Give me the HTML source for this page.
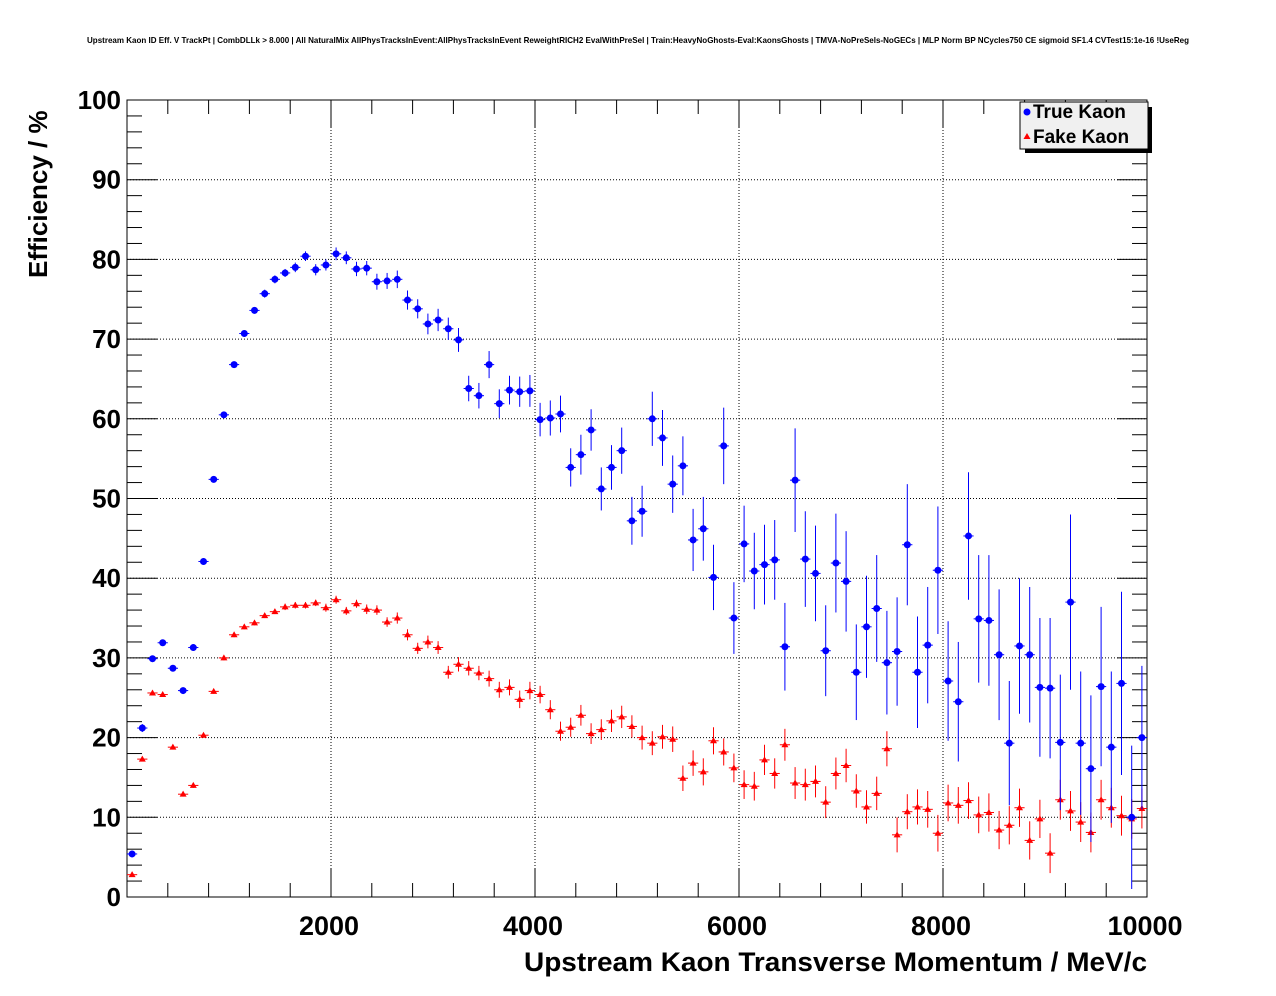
<!DOCTYPE html>
<html><head><meta charset="utf-8"><style>
body{margin:0;background:#fff;}
svg{display:block;font-family:"Liberation Sans",sans-serif;}
</style></head><body>
<svg id="c" width="1276" height="996">
<text x="638" y="43" font-size="8.1" font-weight="bold" text-anchor="middle" textLength="1102" lengthAdjust="spacingAndGlyphs">Upstream Kaon ID Eff. V TrackPt | CombDLLk &gt; 8.000 | All NaturalMix AllPhysTracksInEvent:AllPhysTracksInEvent ReweightRICH2 EvalWithPreSel | Train:HeavyNoGhosts-Eval:KaonsGhosts | TMVA-NoPreSels-NoGECs | MLP Norm BP NCycles750 CE sigmoid SF1.4 CVTest15:1e-16 !UseReg</text>
<g id="grid"></g>
<g id="axes"></g>
<g id="marks"></g>
<text x="1147" y="971" font-size="27" font-weight="bold" text-anchor="end" textLength="623" lengthAdjust="spacingAndGlyphs">Upstream Kaon Transverse Momentum / MeV/c</text>
<text transform="translate(47,278) rotate(-90)" font-size="26" font-weight="bold">Efficiency / %</text>
<g>
<rect x="1025" y="107" width="127" height="46" fill="#000"/>
<rect x="1020" y="102" width="128" height="47" fill="#f0f0f0" stroke="#000" stroke-width="1"/>
<circle cx="1027" cy="112" r="3.5" fill="#0000ff"/>
<text x="1033" y="118" font-size="19" font-weight="bold">True Kaon</text>
<polygon points="1027,133 1023.5,139 1030.5,139" fill="#ff0000"/>
<text x="1033" y="143" font-size="19" font-weight="bold">Fake Kaon</text>
</g>
</svg>
<script>
const xTicks=[2000,4000,6000,8000,10000];
const yTicks=[0,10,20,30,40,50,60,70,80,90,100];
const trueKaon=[5.4,21.2,29.9,31.9,28.7,25.9,31.3,42.1,52.4,60.5,66.8,70.7,73.6,75.7,77.5,78.3,79.0,80.4,78.7,79.3,80.7,80.2,78.8,78.9,77.2,77.3,77.5,74.9,73.8,71.9,72.4,71.3,69.9,63.8,62.9,66.8,61.9,63.6,63.4,63.5,59.9,60.1,60.6,53.9,55.5,58.6,51.2,53.9,56.0,47.2,48.4,60.0,57.6,51.8,54.1,44.8,46.2,40.1,56.6,35.0,44.3,40.9,41.7,42.3,31.4,52.3,42.4,40.6,30.9,41.9,39.6,28.2,33.9,36.2,29.4,30.8,44.2,28.2,31.6,41.0,27.1,24.5,45.3,34.9,34.7,30.4,19.3,31.5,30.4,26.3,26.2,19.4,37.0,19.3,16.1,26.4,18.8,26.8,10.0,20.0];
const trueErr=[0.4,0.5,0.4,0.4,0.4,0.4,0.4,0.4,0.4,0.4,0.4,0.4,0.4,0.5,0.5,0.5,0.6,0.6,0.7,0.7,0.8,0.8,0.9,0.9,1.0,1.0,1.1,1.2,1.2,1.3,1.4,1.4,1.5,1.6,1.6,1.7,1.8,1.8,1.9,2.0,2.1,2.2,2.3,2.4,2.5,2.6,2.7,2.8,2.9,3.0,3.2,3.4,3.5,3.6,3.7,3.9,4.0,4.1,4.8,4.5,4.8,4.8,5.0,5.0,5.5,6.5,6.0,6.0,5.7,6.2,6.3,6.0,6.4,6.7,6.5,6.8,7.6,7.0,7.3,8.0,7.5,7.5,8.0,8.0,8.2,8.2,7.8,8.5,8.5,8.7,8.8,8.5,11.0,9.0,9.2,10.0,9.5,11.5,9.0,9.0];
const fakeKaon=[2.8,17.3,25.6,25.4,18.8,12.9,14.0,20.3,25.8,30.0,32.9,33.9,34.4,35.3,35.8,36.4,36.6,36.6,36.9,36.3,37.3,35.9,36.8,36.1,36.0,34.5,35.0,32.9,31.2,32.0,31.3,28.2,29.2,28.7,28.1,27.4,26.0,26.3,24.8,25.9,25.4,23.5,20.8,21.3,22.8,20.5,21.0,22.1,22.6,21.4,20.0,19.3,20.1,19.8,14.9,16.8,15.7,19.6,18.2,16.2,14.1,13.9,17.2,15.5,19.1,14.3,14.1,14.5,11.9,15.5,16.5,13.3,11.3,13.0,18.6,7.8,10.7,11.3,11.0,8.0,11.8,11.5,12.1,10.3,10.6,8.4,9.0,11.2,7.1,9.8,5.5,12.2,10.8,9.4,8.1,12.2,11.2,10.2,9.8,11.1];
const fakeErr=[0.2,0.3,0.3,0.3,0.3,0.3,0.3,0.3,0.3,0.3,0.3,0.3,0.3,0.3,0.3,0.4,0.4,0.4,0.4,0.5,0.5,0.5,0.5,0.6,0.6,0.6,0.7,0.7,0.7,0.8,0.8,0.8,0.9,0.9,0.9,1.0,1.0,1.0,1.1,1.1,1.1,1.2,1.2,1.2,1.3,1.3,1.3,1.4,1.4,1.4,1.5,1.5,1.5,1.6,1.6,1.6,1.7,1.7,1.7,1.8,1.8,1.8,1.9,1.9,2.0,2.0,2.0,2.0,2.0,2.0,2.1,2.1,2.1,2.1,2.2,2.2,2.2,2.2,2.3,2.3,2.3,2.3,2.3,2.3,2.4,2.4,2.4,2.4,2.4,2.4,2.5,2.5,2.5,2.5,2.5,2.5,2.5,2.5,2.5,2.5];
const binWidth=100;
const L=127,R=1147,T=100,B=897,xMin=0,xMax=10000,yMin=0,yMax=100;
const X=v=>L+(v-xMin)/(xMax-xMin)*(R-L);
const Y=v=>B-(v-yMin)/(yMax-yMin)*(B-T);
const NS='http://www.w3.org/2000/svg';
function mk(p,tag,at){const e=document.createElementNS(NS,tag);for(const k in at)e.setAttribute(k,at[k]);p.appendChild(e);return e;}
const grid=document.getElementById('grid'),axes=document.getElementById('axes'),marks=document.getElementById('marks');
xTicks.forEach(t=>{const l=mk(grid,'line',{x1:X(t),x2:X(t),y1:T,y2:B,stroke:'#000','stroke-width':1,'stroke-dasharray':'1,2'});

});
yTicks.forEach(t=>{const l=mk(grid,'line',{x1:L,x2:R,y1:Y(t),y2:Y(t),stroke:'#000','stroke-width':1,'stroke-dasharray':'1,2'});

});
const fr=mk(axes,'rect',{x:L,y:T,width:R-L,height:B-T,fill:'none',stroke:'#000','stroke-width':1});


for(let v=0;v<=xMax;v+=400){const big=v%2000===0;const h=big?28:14;
mk(axes,'line',{x1:X(v),x2:X(v),y1:B,y2:B-h,stroke:'#000'});mk(axes,'line',{x1:X(v),x2:X(v),y1:T,y2:T+h,stroke:'#000'});}
for(let v=0;v<=yMax;v+=2){const big=v%10===0;const h=big?30:15;
mk(axes,'line',{x1:L,x2:L+h,y1:Y(v),y2:Y(v),stroke:'#000'});mk(axes,'line',{x1:R,x2:R-h,y1:Y(v),y2:Y(v),stroke:'#000'});}
xTicks.forEach(t=>{const e=mk(axes,'text',{x:X(t)-2,y:935,'font-size':27,'font-weight':'bold','text-anchor':'middle'});e.textContent=t;

});
yTicks.forEach(t=>{const e=mk(axes,'text',{x:121,y:Y(t)+9,'font-size':26,'font-weight':'bold','text-anchor':'end'});e.textContent=t;

});
function series(vals,errs,color,shape,name){vals.forEach((v,i)=>{const c=(i+0.5)*binWidth;const x=X(c),y=Y(v);
const g=mk(marks,'g',{});


mk(g,'line',{x1:X(c-binWidth/2),x2:X(c+binWidth/2),y1:y,y2:y,stroke:color,'stroke-width':1});
mk(g,'line',{x1:x,x2:x,y1:Y(v+errs[i]),y2:Y(v-errs[i]),stroke:color,'stroke-width':1});
if(shape==='c')mk(g,'circle',{cx:x,cy:y,r:3.5,fill:color});
else mk(g,'polygon',{points:`${x},${y-3.5} ${x-3.5},${y+2.5} ${x+3.5},${y+2.5}`,fill:color});});}
series(fakeKaon,fakeErr,'#ff0000','t','fake-kaon');
series(trueKaon,trueErr,'#0000ff','c','true-kaon');
</script>
</body></html>
